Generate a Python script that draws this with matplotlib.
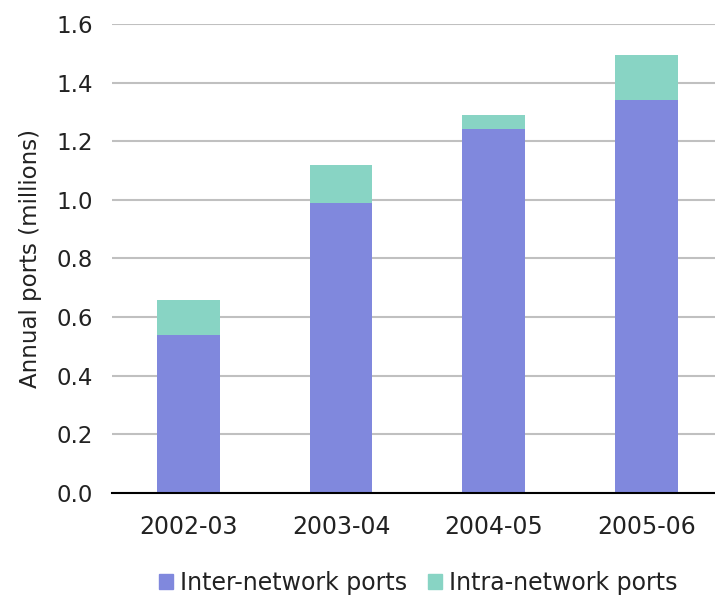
import matplotlib
matplotlib.use("Agg")
import matplotlib.pyplot as plt
from matplotlib.patches import Patch

# values (millions of ports per year)
years = ["2002-03", "2003-04", "2004-05", "2005-06"]
inter_ports = [0.54, 0.99, 1.24, 1.34]
intra_ports = [0.12, 0.13, 0.05, 0.155]

inter_color = "#8088dd"
intra_color = "#88d4c4"

plt.rcParams['font.family'] = ['DejaVu Sans']

fig = plt.figure(figsize=(7.15, 5.99), dpi=100)
ax = fig.add_axes([0.157, 0.177, 0.843, 0.783])

x = list(range(len(years)))
ax.bar(x, inter_ports, width=0.41, color=inter_color, zorder=3)
ax.bar(x, intra_ports, width=0.41, bottom=inter_ports, color=intra_color, zorder=3)

ax.set_ylim(0, 1.6)
ax.set_xlim(-0.5, 3.45)
ax.set_yticks([0.0, 0.2, 0.4, 0.6, 0.8, 1.0, 1.2, 1.4, 1.6])
ax.set_yticklabels(["%.1f" % v for v in ax.get_yticks()])
ax.set_xticks(x)
ax.set_xticklabels(years)
ax.yaxis.grid(True, color="#c0c0c0", linewidth=1.5, zorder=0)

for s in ["top", "right", "left"]:
    ax.spines[s].set_visible(False)
ax.spines["bottom"].set_color("black")
ax.spines["bottom"].set_linewidth(1.5)
ax.spines["bottom"].set_zorder(4)
ax.tick_params(axis="y", length=0, pad=14, labelsize=16.5, labelcolor="#222222")
ax.tick_params(axis="x", length=0, pad=16, labelsize=17, labelcolor="#222222")
ax.set_ylabel("Annual ports (millions)", fontsize=16.5, labelpad=10, color="#222222")

handles = [Patch(color=inter_color, label="Inter-network ports"),
           Patch(color=intra_color, label="Intra-network ports")]
fig.legend(handles=handles, loc="center", bbox_to_anchor=(0.585, 0.027), ncol=2,
           frameon=False, fontsize=17, handlelength=0.6, handleheight=0.6,
           handletextpad=0.3, columnspacing=0.9, labelcolor="#222222")

fig.savefig("out.png", dpi=100)
